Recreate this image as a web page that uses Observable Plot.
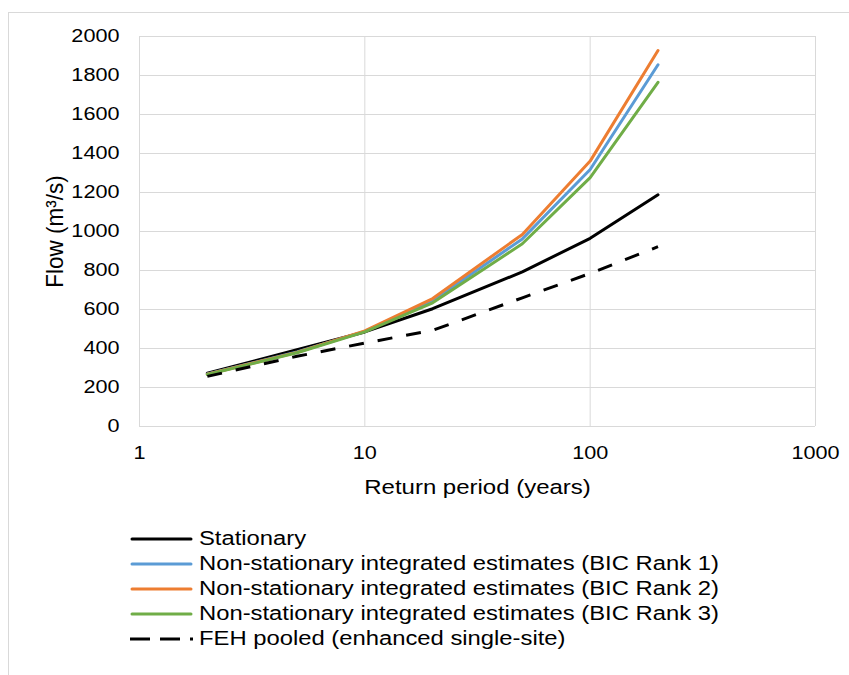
<!DOCTYPE html>
<html>
<head>
<meta charset="utf-8">
<script src="https://cdn.jsdelivr.net/npm/d3@7"></script>
<script src="https://cdn.jsdelivr.net/npm/@observablehq/plot@0.6"></script>
<style>
  html, body { margin: 0; padding: 0; background: #fff; }
  body { width: 849px; height: 675px; position: relative; overflow: hidden; font-family: "Liberation Sans", Arial, sans-serif; }
  #frame { position: absolute; left: 8px; top: 12px; width: 900px; height: 700px; border: 1px solid #d9d9d9; box-sizing: border-box; }
  #chart { position: absolute; left: 0; top: 0; }
  #legend { position: absolute; left: 130px; top: 526px; }
  .row { display: flex; align-items: center; height: 25px; font-size: 20px; color: #000; white-space: nowrap; }
  .row svg { margin-right: 6px; flex: none; }
  .row span { display: inline-block; transform: scaleX(1.19); transform-origin: left center; }
</style>
</head>
<body>
<div id="frame"></div>
<div id="chart"></div>
<div id="legend"></div>
<script>
const periods = [2, 5, 10, 20, 50, 100, 200];
const stationary = [273, 394, 485, 604, 793, 965, 1188];
const rank1 = [269, 382, 488, 645, 962, 1318, 1855];
const rank2 = [268, 380, 490, 656, 985, 1361, 1928];
const rank3 = [267, 378, 485, 634, 937, 1276, 1765];
const feh = [257, 360, 428, 493, 660, 785, 922];
const xTicks = [1, 10, 100, 1000];
const yTicks = [0, 200, 400, 600, 800, 1000, 1200, 1400, 1600, 1800, 2000];

const seriesNames = [
  "Stationary",
  "Non-stationary integrated estimates (BIC Rank 1)",
  "Non-stationary integrated estimates (BIC Rank 2)",
  "Non-stationary integrated estimates (BIC Rank 3)",
  "FEH pooled (enhanced single-site)"
];
const seriesColors = ["#000000", "#5B9BD5", "#ED7D31", "#70AD47", "#000000"];
const seriesDash = [null, null, null, null, "15,14"];
const seriesValues = [stationary, rank1, rank2, rank3, feh];

const toRows = vals => periods.map((p, i) => ({period: p, flow: vals[i]}));

const lineMarks = seriesValues.map((vals, k) =>
  Plot.line(toRows(vals), {
    x: "period", y: "flow",
    stroke: seriesColors[k], strokeWidth: 3,
    strokeDasharray: seriesDash[k] || undefined,
    strokeLinecap: seriesDash[k] ? "butt" : "round",
    strokeLinejoin: "round"
  })
);

const chart = Plot.plot({
  width: 849,
  height: 510,
  marginLeft: 139,
  marginRight: 34,
  marginTop: 36,
  marginBottom: 84,
  style: { fontFamily: "'Liberation Sans', Arial, sans-serif", fontSize: "18.5px", color: "#000", background: "transparent" },
  x: { type: "log", domain: [1, 1000] },
  y: { domain: [0, 2000] },
  marks: [
    Plot.ruleY(yTicks, { stroke: "#d9d9d9", strokeWidth: 1 }),
    Plot.ruleX(xTicks, { stroke: "#d9d9d9", strokeWidth: 1 }),
    Plot.axisY({ ticks: yTicks, tickSize: 0, tickPadding: 20, fontSize: 18.5, tickFormat: d3.format("d"),
      label: null }),
    Plot.axisY({ ticks: [], tickSize: 0, fontSize: 22.5,
      label: "Flow (m³/s)", labelAnchor: "center", labelArrow: "none", labelOffset: 94 }),
    Plot.axisX({ ticks: xTicks, tickSize: 0, tickPadding: 19, fontSize: 18.5, tickFormat: d => String(d),
      label: null }),
    Plot.axisX({ ticks: [], tickSize: 0, fontSize: 20.5,
      label: "Return period (years)", labelAnchor: "center", labelArrow: "none", labelOffset: 67 }),
    ...lineMarks
  ]
});
document.getElementById("chart").appendChild(chart);

// reference text is slightly wide: stretch glyphs horizontally about their anchor
chart.querySelectorAll("text").forEach(t => {
  const tr = t.getAttribute("transform") || "";
  const rotated = /rotate/.test(tr);
  t.setAttribute("transform", tr + (rotated ? " scale(1,1.08)" : " scale(1.17,1)"));
});

const legend = document.getElementById("legend");
seriesNames.forEach((name, k) => {
  const row = document.createElement("div");
  row.className = "row";
  const dashed = k === 4;
  row.innerHTML = `<svg width="63" height="10"><line x1="${dashed?0:2}" y1="5" x2="${dashed?63:61}" y2="5" stroke="${seriesColors[k]}" stroke-width="3" ${dashed ? 'stroke-dasharray="20,10"' : ''} stroke-linecap="${dashed?'butt':'round'}"/></svg><span>${name}</span>`;
  legend.appendChild(row);
});
</script>
</body>
</html>
